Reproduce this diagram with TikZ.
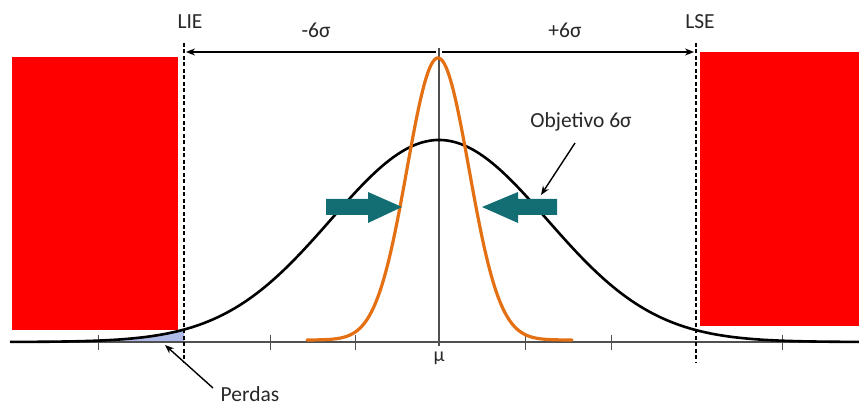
\documentclass[tikz,border=0pt]{standalone}
\usepackage{fontspec}
\setmainfont{Carlito}
\usetikzlibrary{arrows.meta}
\definecolor{redbox}{RGB}{255,0,0}
\definecolor{curveorange}{RGB}{228,112,20}
\definecolor{tealarrow}{RGB}{18,110,114}
\definecolor{lossblue}{RGB}{176,186,232}
\definecolor{axisgray}{RGB}{80,80,80}
\definecolor{textgray}{RGB}{40,40,40}
\tikzset{
  lbl/.style={font=\fontsize{21.5}{24}\selectfont, text=textgray, inner sep=0pt},
  limitline/.style={black, line width=1.6pt, dash pattern=on 4pt off 2.5pt},
  dimarrow/.style={black, line width=1.4pt, -{Stealth[length=9pt,width=7pt]}},
  callout/.style={black, line width=1.4pt, -{Stealth[length=9pt,width=7pt]}},
  tealpoly/.style={fill=tealarrow, draw=none},
  tick/.style={axisgray, line width=1pt}
}
\begin{document}
\begin{tikzpicture}[x=1pt,y=-1pt]
\useasboundingbox (0,0) rectangle (859,406);
% red regions
\fill[redbox] (12,57) rectangle (178,330);
\fill[redbox] (700,52) rectangle (859,326);
% loss area
\fill[lossblue] plot[domain=120:184,samples=40] (\x,{342-202*exp(-((\x-439)/108)^2/2)}) -- (184,342) -- (120,342) -- cycle;
% axis
\draw[axisgray, line width=1.2pt] (10,342) -- (859,342);
\foreach \t in {98,270,355,525,611,782} \draw[tick] (\t,335) -- (\t,350);
% centre line
\coordinate (mutop) at (439,48);
\node[lbl, font=\fontsize{20}{22}\selectfont] (mu) at (439,358) {μ};
\draw[axisgray, line width=1.2pt] (mutop) -- (439,346);
% black curve
\draw[black, line width=2.6pt] plot[domain=10:859,samples=240] (\x,{342-202*exp(-((\x-439)/108)^2/2)});
% orange curve
\draw[curveorange, line width=3.2pt, line cap=round] plot[domain=307:572,samples=200] (\x,{340-282*exp(-((\x-438)/31)^2/2)});
% limit lines
\coordinate (lietop) at (184,43);
\coordinate (liebot) at (184,362);
\coordinate (lsetop) at (696,43);
\coordinate (lsebot) at (696,362);
\draw[limitline] (lietop) -- (liebot);
\draw[limitline] (lsetop) -- (lsebot);
\node[lbl] (lie) at (190,22) {LIE};
\node[lbl] (lse) at (700,22) {LSE};
% dimension arrows
\coordinate (dl) at (186,52);
\coordinate (dml) at (436,52);
\coordinate (dmr) at (442,52);
\coordinate (dr) at (694,52);
\draw[dimarrow] (dml) -- (dl);
\draw[dimarrow] (dmr) -- (dr);
\node[lbl] (minus) at (316,30) {-6σ};
\node[lbl] (plus) at (565,30) {+6σ};
% teal arrows
\fill[tealpoly] (326,199) -- (368,199) -- (368,192) -- (402,207) -- (368,223) -- (368,215) -- (326,215) -- cycle;
\fill[tealpoly] (557,199) -- (518,199) -- (518,192) -- (482,207) -- (518,223) -- (518,215) -- (557,215) -- cycle;
% callouts
\node[lbl] (obj) at (581,122) {Objetivo 6σ};
\coordinate (objtip) at (541,195);
\draw[callout] (575,143) -- (objtip);
\node[lbl] (perdas) at (250,394) {Perdas};
\coordinate (perdastip) at (165,345);
\draw[callout] (213,388) -- (perdastip);
\end{tikzpicture}
\end{document}
